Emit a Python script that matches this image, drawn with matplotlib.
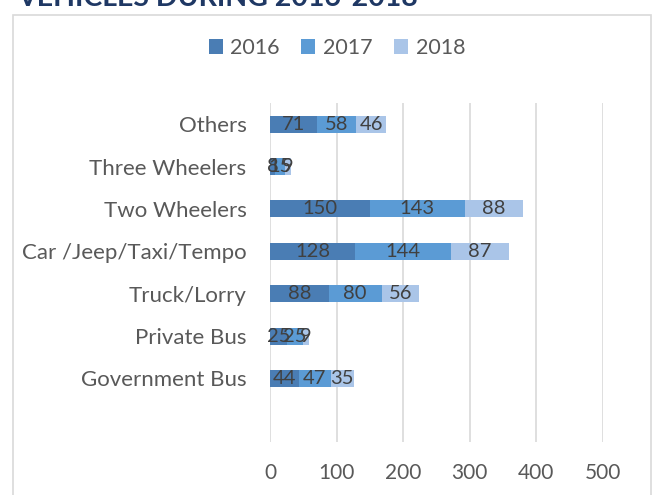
import numpy as np
import matplotlib.pyplot as plt
from matplotlib.patches import Rectangle

plt.rcParams['font.family'] = ['Lato', 'DejaVu Sans']

# categories, top to bottom
categories = ["Others", "Three Wheelers", "Two Wheelers", "Car /Jeep/Taxi/Tempo",
              "Truck/Lorry", "Private Bus", "Government Bus"]
years = ["2016", "2017", "2018"]
v2016 = [71, 8, 150, 128, 88, 25, 44]
v2017 = [58, 15, 143, 144, 80, 25, 47]
v2018 = [46, 9, 88, 87, 56, 9, 35]
xticks = [0, 100, 200, 300, 400, 500]

colors = ['#4A7DB4', '#5B9BD5', '#AAC5E8']
series = [v2016, v2017, v2018]

fig = plt.figure(figsize=(6.52, 4.95), dpi=100)
# outer chart border
fig.patches.append(Rectangle((13 / 652, -0.05), 638 / 652, 1 - 15 / 495 + 0.05,
                             transform=fig.transFigure, fill=False,
                             edgecolor='#D9D9D9', lw=1.2))
fig.text(17 / 652, 1 - 6 / 495, "VEHICLES DURING 2016-2018", fontsize=20.5,
         fontweight='bold', color='#1F3864', va='baseline', ha='left')

ax = fig.add_axes([270 / 652, 1 - 442 / 495, 332.5 / 652, 339 / 495])
y = np.arange(len(categories))
left = np.zeros(len(categories))
for vals, c, yr in zip(series, colors, years):
    bars = ax.barh(y, vals, left=left, height=0.4, color=c, label=yr, zorder=2)
    ax.bar_label(bars, labels=[str(v) for v in vals], label_type='center',
                 color='#404040', fontsize=14.5)
    left += np.array(vals)

ax.set_ylim(len(categories) + 0.5, -0.5)
ax.set_xlim(0, 500)
ax.set_yticks(y)
ax.set_yticklabels(categories, fontsize=16, color='#595959')
ax.set_xticks(xticks)
ax.set_xticklabels([str(t) for t in xticks], fontsize=15, color='#595959')
ax.tick_params(length=0)
ax.tick_params(axis='x', pad=15)
ax.tick_params(axis='y', pad=17)
ax.grid(axis='x', color='#D9D9D9', lw=1.2, zorder=0)
for s in ax.spines.values():
    s.set_visible(False)

ax.legend(loc='center', bbox_to_anchor=(337 / 652, 1 - 48 / 495),
          bbox_transform=fig.transFigure, ncol=3, frameon=False,
          fontsize=15.5, handlelength=0.65, handleheight=0.65, columnspacing=1.0,
          handletextpad=0.35, labelcolor='#595959')

fig.savefig("out.png", dpi=100)
